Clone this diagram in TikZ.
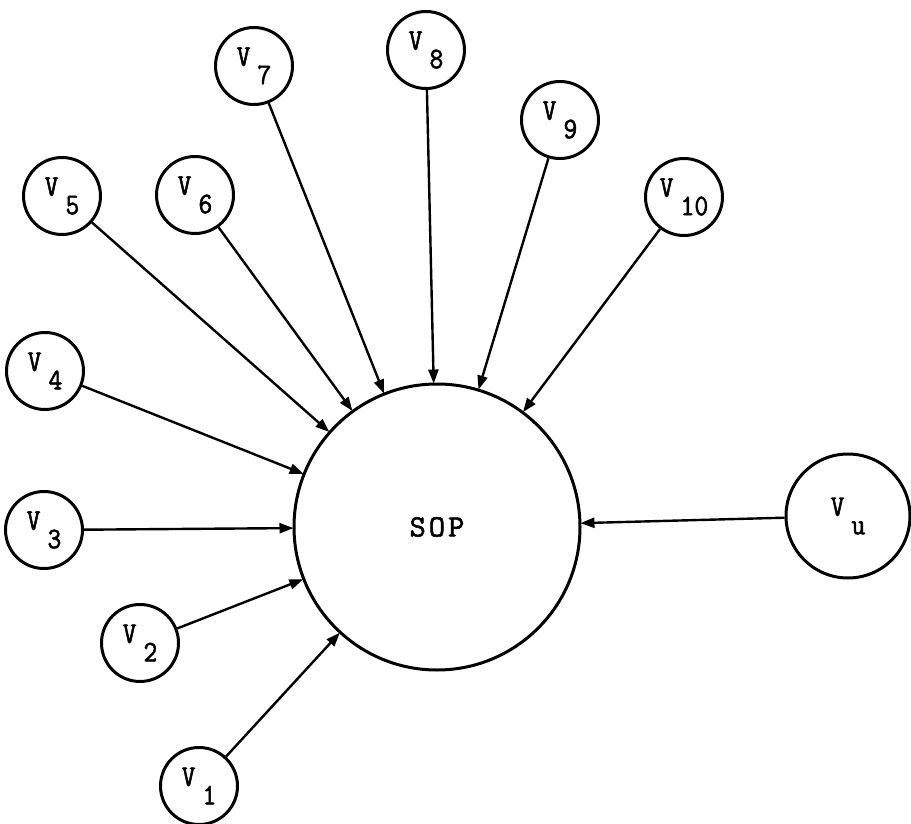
\documentclass[tikz,border=0pt]{standalone}
\usepackage{fontspec}
\usetikzlibrary{arrows.meta}
\newfontfamily\twfont{lmmono10-regular.otf}[FakeBold=1.6]
\newfontfamily\vfont{lmmono10-regular.otf}[FakeBold=1.6,FakeStretch=0.88]
\newcommand{\vlab}[1]{V\hspace{7pt}\raisebox{-18.5pt}{#1}}
\tikzset{
  small/.style={circle, draw, line width=3pt, minimum size=77pt, inner sep=0pt,
    font=\vfont\fontsize{30}{30}\selectfont},
  big/.style={circle, draw, line width=3pt, minimum size=286pt, inner sep=0pt,
    font=\twfont\fontsize{31}{31}\selectfont},
  conn/.style={line width=2.4pt, -{Triangle[length=14pt,width=10pt]}, shorten >=-1pt}
}
\begin{document}
\begin{tikzpicture}[x=1pt,y=-1pt]
\useasboundingbox (0,0) rectangle (911,824);
\node[big] (sop) at (437,527) {S\hspace{3pt}O\hspace{3pt}P};
\node[small] (v1) at (199,786) {\vlab{1}};
\node[small] (v2) at (140,643) {\vlab{2}};
\node[small] (v3) at (44,530) {\vlab{3}};
\node[small] (v4) at (45,371) {\vlab{4}};
\node[small] (v5) at (62,196) {\vlab{5}};
\node[small] (v6) at (195,195) {\vlab{6}};
\node[small] (v7) at (254,66) {\vlab{7}};
\node[small] (v8) at (426,50) {\vlab{8}};
\node[small] (v9) at (560,120) {\vlab{9}};
\node[small] (v10) at (684,197) {\vlab{10}};
\node[small, minimum size=124pt] (vu) at (848,516) {\vlab{u}};
\foreach \n in {v1,v2,v3,v4,v5,v6,v7,v8,v9,v10,vu}
  \draw[conn] (\n) -- (sop);
\end{tikzpicture}
\end{document}
